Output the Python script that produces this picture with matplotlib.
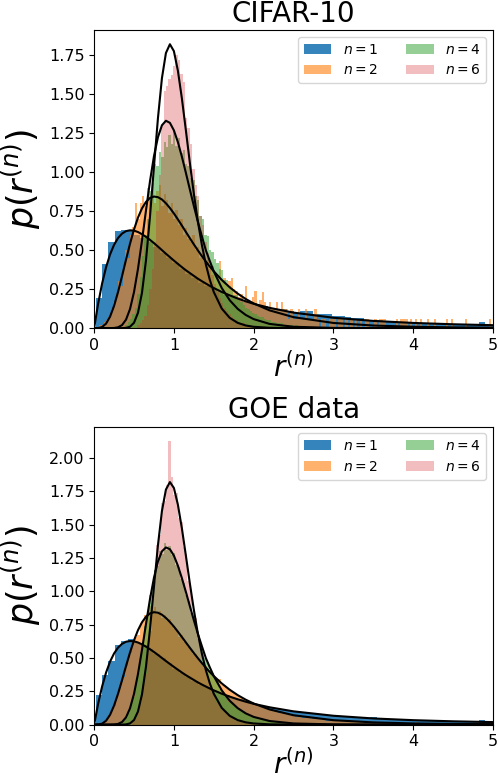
import numpy as np
import matplotlib
matplotlib.use("Agg")
import matplotlib.pyplot as plt

# theory curves
r_theory = [0, 0.05, 0.10, 0.15, 0.20, 0.25, 0.30, 0.35, 0.40, 0.45, 0.50, 0.55, 0.60, 0.65,
            0.70, 0.75, 0.80, 0.85, 0.90, 0.95, 1.00, 1.05, 1.10, 1.15, 1.20, 1.25, 1.30, 1.35,
            1.40, 1.45, 1.50, 1.60, 1.70, 1.80, 1.90, 2.00, 2.20, 2.50, 3.00, 3.50, 4.00, 4.50, 5.00]
p_n1 = [0, 0.156, 0.286, 0.391, 0.473, 0.534, 0.578, 0.606, 0.622, 0.627, 0.625, 0.616, 0.602, 0.585,
        0.566, 0.545, 0.523, 0.500, 0.477, 0.455, 0.433, 0.412, 0.391, 0.371, 0.353, 0.335, 0.317, 0.301,
        0.286, 0.271, 0.257, 0.232, 0.210, 0.190, 0.172, 0.156, 0.130, 0.0995, 0.0665, 0.0463, 0.0334, 0.0248, 0.0189]
p_n2 = [0, 0.0005, 0.0071, 0.0292, 0.0740, 0.1429, 0.2319, 0.3336, 0.4395, 0.5413, 0.6324, 0.7088, 0.7679, 0.8093,
        0.8344, 0.8435, 0.8395, 0.8247, 0.8002, 0.7700, 0.7352, 0.6971, 0.6573, 0.6168, 0.5765, 0.5370, 0.4989, 0.4623,
        0.4276, 0.3947, 0.3643, 0.3089, 0.2614, 0.2212, 0.1870, 0.1583, 0.1137, 0.0703, 0.0332, 0.0167, 0.0089, 0.0050, 0.0030]
p_n4 = [0, 0, 0, 0, 0, 0.001, 0.0053, 0.0196, 0.0547, 0.1225, 0.2313, 0.3807, 0.5609, 0.7543,
        0.9410, 1.1019, 1.2239, 1.3003, 1.3293, 1.3159, 1.2677, 1.1922, 1.0991, 0.9959, 0.8889, 0.7833, 0.6829, 0.5898,
        0.4999, 0.4300, 0.3638, 0.2567, 0.1787, 0.1233, 0.0845, 0.0578, 0.0270, 0.0088, 0.0015, 0.0003, 0.0001, 0, 0]
p_n6 = [0, 0, 0, 0, 0, 0, 0, 0, 0.0017, 0.0091, 0.0345, 0.0989, 0.2271, 0.4343,
        0.7141, 1.0341, 1.3461, 1.6025, 1.7635, 1.8198, 1.7754, 1.6503, 1.4726, 1.2684, 1.0593, 0.8614, 0.6852, 0.5347,
        0.4099, 0.3099, 0.2315, 0.1252, 0.0658, 0.0338, 0.0171, 0.0086, 0.0022, 0.0003, 0, 0, 0, 0, 0]

# histogram bins: (first edge, bin width)
bins_n1 = (0.02, 0.08)
bins_n2 = (0.0, 0.03)
bins_n4 = (0.30, 0.03)
bins_n6 = (0.45, 0.03)

# CIFAR-10 histogram heights (density)
cifar_n1 = [0.19, 0.41, 0.55, 0.62, 0.63, 0.62, 0.60, 0.58, 0.55, 0.52,
            0.48, 0.45, 0.42, 0.38, 0.35, 0.32, 0.29, 0.27, 0.25, 0.23,
            0.21, 0.20, 0.19, 0.17, 0.16, 0.15, 0.14, 0.13, 0.12, 0.12,
            0.11, 0.10, 0.11, 0.11, 0.09, 0.09, 0.09, 0.08, 0.08, 0.07,
            0.066, 0.066, 0.05, 0.05, 0.05, 0.045, 0.045, 0.04, 0.04, 0.035,
            0.035, 0.035, 0.03, 0.03, 0.03, 0.025, 0.025, 0.025, 0.022, 0.02,
            0.04, 0.02, 0.02]
cifar_n2 = [0.00, 0.00, 0.02, 0.02, 0.04, 0.05, 0.07, 0.12, 0.17, 0.22,
            0.30, 0.27, 0.40, 0.50, 0.45, 0.60, 0.65, 0.80, 0.70, 0.80,
            0.85, 0.78, 0.90, 0.82, 0.95, 0.80, 0.88, 0.92, 0.78, 0.86,
            0.82, 0.74, 0.80, 0.70, 0.76, 0.66, 0.70, 0.60, 0.64, 0.57,
            0.55, 0.60, 0.50, 0.52, 0.45, 0.48, 0.42, 0.45, 0.38, 0.40,
            0.35, 0.33, 0.43, 0.30, 0.32, 0.27, 0.30, 0.32, 0.25, 0.24,
            0.20, 0.22, 0.18, 0.27, 0.17, 0.16, 0.20, 0.24, 0.15, 0.18,
            0.23, 0.17, 0.12, 0.17, 0.12, 0.12, 0.17, 0.12, 0.17, 0.12,
            0.12, 0.06, 0.12, 0.06, 0.06, 0.12, 0.06, 0.06, 0.12, 0.06,
            0.06, 0.06, 0.12, 0.06, 0.00, 0.06, 0.06, 0.00, 0.06, 0.06,
            0.06, 0.00, 0.06, 0.06, 0.00, 0.06, 0.00, 0.06, 0.00, 0.06,
            0.00, 0.06, 0.00, 0.06, 0.06, 0.00, 0.00, 0.06, 0.00, 0.06,
            0.06, 0.06, 0.00, 0.00, 0.00, 0.00, 0.06, 0.00, 0.06, 0.06,
            0.06, 0.00, 0.06, 0.00, 0.06, 0.00, 0.06, 0.00, 0.00, 0.06,
            0.00, 0.00, 0.06, 0.00, 0.00, 0.00, 0.00, 0.06, 0.00, 0.06,
            0.00, 0.00, 0.00, 0.00, 0.00, 0.06, 0.00, 0.00, 0.00, 0.00,
            0.00, 0.00, 0.00, 0.00, 0.00, 0.06, 0.00]
cifar_n4 = [0.00, 0.00, 0.00, 0.02, 0.04, 0.06, 0.09, 0.13, 0.22, 0.33,
            0.46, 0.60, 0.70, 0.88, 0.93, 1.05, 1.04, 1.13, 1.10, 1.19,
            1.16, 1.24, 1.18, 1.27, 1.17, 1.22, 1.12, 1.14, 1.05, 1.04,
            0.96, 0.95, 0.85, 0.82, 0.72, 0.70, 0.60, 0.59, 0.50, 0.49,
            0.44, 0.42, 0.38, 0.37, 0.31, 0.31, 0.27, 0.26, 0.21, 0.21,
            0.18, 0.17, 0.15, 0.13, 0.12, 0.11, 0.10, 0.09, 0.08, 0.07,
            0.07, 0.06, 0.05, 0.05, 0.04, 0.04, 0.03, 0.03, 0.03, 0.02,
            0.02, 0.02, 0.02, 0.01, 0.02, 0.01, 0.01, 0.01, 0.01, 0.01,
            0.01, 0.00, 0.01, 0.00, 0.01, 0.00, 0.00, 0.01, 0.00, 0.00]
cifar_n6 = [0.00, 0.00, 0.00, 0.02, 0.03, 0.05, 0.08, 0.15, 0.25, 0.38,
            0.55, 0.75, 0.98, 1.30, 1.52, 1.55, 1.60, 1.62, 1.68, 1.75,
            1.72, 1.63, 1.58, 1.35, 1.28, 1.18, 1.02, 0.92, 0.85, 0.72,
            0.66, 0.55, 0.48, 0.40, 0.34, 0.28, 0.24, 0.19, 0.16, 0.13,
            0.11, 0.09, 0.07, 0.06, 0.05, 0.04, 0.03, 0.03, 0.02, 0.02,
            0.01, 0.01, 0.01, 0.01, 0.00, 0.01, 0.00, 0.00, 0.00, 0.00]

# GOE histogram heights (density)
goe_n1 = [0.22, 0.37, 0.48, 0.60, 0.63, 0.64, 0.62, 0.60, 0.57, 0.53,
          0.50, 0.46, 0.42, 0.39, 0.36, 0.33, 0.30, 0.28, 0.26, 0.24,
          0.22, 0.20, 0.19, 0.17, 0.16, 0.15, 0.14, 0.13, 0.12, 0.11,
          0.10, 0.095, 0.09, 0.085, 0.08, 0.075, 0.07, 0.067, 0.065, 0.06,
          0.055, 0.052, 0.05, 0.055, 0.045, 0.042, 0.04, 0.038, 0.045, 0.035,
          0.033, 0.031, 0.03, 0.035, 0.027, 0.026, 0.025, 0.024, 0.023, 0.022,
          0.035, 0.02, 0.019]
goe_n2 = [0.00, 0.00, 0.00, 0.01, 0.02, 0.04, 0.07, 0.11, 0.14, 0.21,
          0.25, 0.32, 0.36, 0.44, 0.50, 0.54, 0.62, 0.66, 0.67, 0.76,
          0.77, 0.82, 0.85, 0.89, 0.86, 0.88, 0.83, 0.85, 0.80, 0.82,
          0.78, 0.79, 0.74, 0.72, 0.71, 0.66, 0.67, 0.62, 0.62, 0.58,
          0.57, 0.53, 0.53, 0.49, 0.48, 0.44, 0.44, 0.41, 0.40, 0.37,
          0.36, 0.34, 0.34, 0.30, 0.30, 0.28, 0.27, 0.25, 0.24, 0.23,
          0.22, 0.20, 0.20, 0.18, 0.18, 0.16, 0.17, 0.15, 0.14, 0.14,
          0.13, 0.13, 0.12, 0.11, 0.11, 0.10, 0.10, 0.09, 0.09, 0.08,
          0.08, 0.08, 0.07, 0.07, 0.06, 0.06, 0.06, 0.05, 0.05, 0.05,
          0.05, 0.04, 0.04, 0.04, 0.04, 0.04, 0.04, 0.03, 0.03, 0.03,
          0.03, 0.03, 0.03, 0.03, 0.03, 0.02, 0.03, 0.02, 0.02, 0.02,
          0.02, 0.02, 0.02, 0.02, 0.02, 0.02, 0.02, 0.01, 0.02, 0.01,
          0.01, 0.02, 0.01, 0.01, 0.01, 0.02, 0.01, 0.01, 0.01, 0.01,
          0.01, 0.01, 0.01, 0.01, 0.02, 0.01, 0.01, 0.01, 0.01, 0.01,
          0.01, 0.00, 0.01, 0.01, 0.01, 0.00, 0.01, 0.01, 0.00, 0.01,
          0.01, 0.00, 0.01, 0.00, 0.01, 0.01, 0.00, 0.01, 0.00, 0.01,
          0.02, 0.00, 0.01, 0.00, 0.00, 0.01, 0.00]
goe_n4 = [0.00, 0.01, 0.03, 0.05, 0.09, 0.15, 0.21, 0.31, 0.39, 0.51,
          0.60, 0.74, 0.83, 0.97, 1.04, 1.16, 1.19, 1.30, 1.28, 1.36,
          1.31, 1.34, 1.27, 1.29, 1.20, 1.18, 1.09, 1.06, 0.97, 0.93,
          0.84, 0.80, 0.72, 0.68, 0.60, 0.57, 0.50, 0.47, 0.41, 0.39,
          0.34, 0.32, 0.27, 0.26, 0.22, 0.21, 0.17, 0.17, 0.14, 0.13,
          0.12, 0.10, 0.10, 0.08, 0.08, 0.06, 0.06, 0.05, 0.05, 0.04,
          0.04, 0.03, 0.03, 0.03, 0.02, 0.02, 0.02, 0.02, 0.01, 0.01,
          0.01, 0.01, 0.01, 0.01, 0.01, 0.00, 0.01, 0.00, 0.01, 0.00,
          0.00, 0.01, 0.00, 0.00, 0.00, 0.00, 0.01, 0.00, 0.00, 0.00]
goe_n6 = [0.00, 0.03, 0.05, 0.12, 0.17, 0.30, 0.38, 0.57, 0.70, 0.95,
          1.08, 1.35, 1.42, 1.66, 1.68, 1.80, 2.13, 1.86, 1.72, 1.74,
          1.55, 1.52, 1.33, 1.28, 1.08, 1.02, 0.84, 0.80, 0.64, 0.60,
          0.47, 0.44, 0.34, 0.31, 0.24, 0.22, 0.17, 0.15, 0.11, 0.10,
          0.08, 0.07, 0.05, 0.05, 0.03, 0.03, 0.02, 0.02, 0.02, 0.01,
          0.01, 0.01, 0.01, 0.00, 0.01, 0.00, 0.00, 0.00, 0.00, 0.00]

labels = ['$n=1$', '$n=2$', '$n=4$', '$n=6$']
colors = ['tab:blue', 'tab:orange', 'tab:green', 'tab:red']
alphas = [0.9, 0.6, 0.5, 0.3]


def draw_hist(ax, heights, spec, color, alpha, label):
    start, width = spec
    edges = start + width * np.arange(len(heights) + 1)
    centers = 0.5 * (edges[:-1] + edges[1:])
    ax.hist(centers, bins=edges, weights=heights, color=color, alpha=alpha, label=label)


def panel(ax, title, hists):
    for h, spec, c, a, lab in zip(hists, [bins_n1, bins_n2, bins_n4, bins_n6], colors, alphas, labels):
        draw_hist(ax, h, spec, c, a, lab)
    for p in [p_n1, p_n2, p_n4, p_n6]:
        ax.plot(r_theory, p, color='black', lw=1.5)
    ax.set_xlim(0, 5)
    ax.set_title(title, fontsize=20)
    ax.set_xlabel('$r^{(n)}$', fontsize=20, labelpad=0)
    ax.set_ylabel('$p(r^{(n)})$', fontsize=25)
    ax.tick_params(labelsize=11.5)
    ax.legend(ncol=2, loc='upper right', fontsize=10)


fig, axes = plt.subplots(2, 1, figsize=(4.98, 7.8), dpi=100)
fig.subplots_adjust(left=0.189, right=0.990, top=0.9615, bottom=0.071, hspace=0.33)

panel(axes[0], 'CIFAR-10', [cifar_n1, cifar_n2, cifar_n4, cifar_n6])
panel(axes[1], 'GOE data', [goe_n1, goe_n2, goe_n4, goe_n6])

fig.savefig('out.png', dpi=100)
